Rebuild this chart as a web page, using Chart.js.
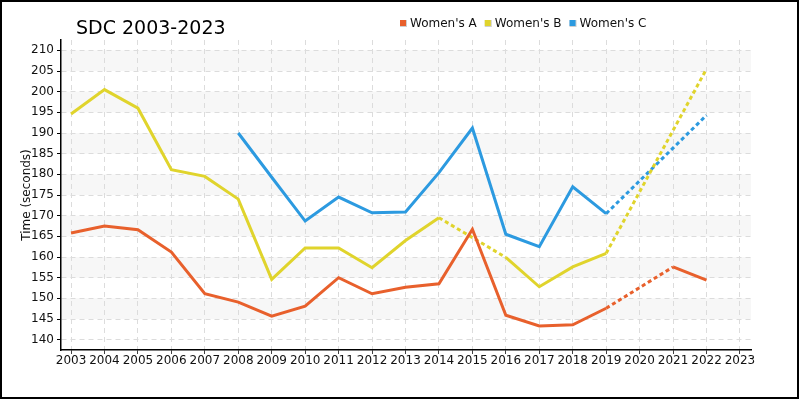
<!DOCTYPE html>
<html>
<head>
<meta charset="utf-8">
<script src="https://cdn.jsdelivr.net/npm/chart.js@4/dist/chart.umd.min.js"></script>
<style>
    html, body { margin: 0; padding: 0; background: #fff; }
    #wrap { width: 800px; height: 400px; position: relative; }
</style>
</head>
<body>
<div id="wrap"><canvas id="sdcChart"></canvas></div>
<script>
// ==================== DATA ====================
const years = [2003, 2004, 2005, 2006, 2007, 2008, 2009, 2010, 2011, 2012, 2013,
               2014, 2015, 2016, 2017, 2018, 2019, 2020, 2021, 2022, 2023];

const womensA = [165.8, 167.5, 166.6, 161.2, 151.1, 149.1, 145.7, 148.1, 155.0, 151.1, 152.7,
                 153.5, 166.7, 145.9, 143.3, 143.6, 147.6, null, 157.6, 154.4, null];
const womensB = [194.6, 200.5, 196.0, 181.1, 179.5, 174.0, 154.6, 162.2, 162.2, 157.4, 164.0,
                 169.5, null, 159.9, 152.8, 157.6, 160.9, null, null, 205.5, null];
const womensC = [null, null, null, null, null, 190.0, 179.3, 168.7, 174.5, 170.7, 170.9,
                 180.4, 191.2, 165.5, 162.5, 177.0, 170.5, null, null, 194.3, null];

const seriesLabels = ["Women's A", "Women's B", "Women's C"];
const seriesColors = ['#e8602c', '#e0d42c', '#2c9ae0'];
const yTicks = [140, 145, 150, 155, 160, 165, 170, 175, 180, 185, 190, 195, 200, 205, 210];
const shadedBands = [[145, 150], [155, 160], [165, 170], [175, 180], [185, 190], [195, 200], [205, 210]];

const FONT = "'DejaVu Sans', Verdana, sans-serif";

function toPoints(values) {
    return years.map((y, i) => ({ x: y, y: values[i] }));
}

// dashed wherever the line spans a missing year
const gapDash = ctx => (ctx.p0.skip || ctx.p1.skip ? [4, 3] : undefined);

function makeDataset(label, values, color) {
    return {
        label,
        data: toPoints(values),
        borderColor: color,
        backgroundColor: color,
        borderWidth: 3,
        pointRadius: 0,
        tension: 0,
        spanGaps: true,
        segment: { borderDash: gapDash }
    };
}

// ==================== PLUGINS ====================
const decorPlugin = {
    id: 'decor',
    beforeDraw(chart) {
        const { ctx, chartArea, scales } = chart;
        ctx.save();
        ctx.fillStyle = '#f7f7f7';
        shadedBands.forEach(([lo, hi]) => {
            const top = scales.y.getPixelForValue(hi);
            const bot = scales.y.getPixelForValue(lo);
            ctx.fillRect(chartArea.left, top, chartArea.right - chartArea.left, bot - top);
        });
        ctx.restore();
    },
    afterDraw(chart) {
        const { ctx } = chart;
        ctx.save();
        // title
        ctx.fillStyle = '#000';
        ctx.font = '19px ' + FONT;
        ctx.textBaseline = 'alphabetic';
        ctx.textAlign = 'left';
        ctx.fillText('SDC 2003-2023', 76, 34);

        // legend
        ctx.font = '12px ' + FONT;
        ctx.textBaseline = 'middle';
        let x = 400;
        chart.data.datasets.forEach(ds => {
            ctx.fillStyle = '#cfcfcf';
            ctx.fillRect(x, 20, 7, 7);
            ctx.fillStyle = ds.borderColor;
            ctx.fillRect(x, 20, 6, 6);
            ctx.fillStyle = '#111';
            ctx.fillText(ds.label, x + 10, 23.5);
            x += 10 + ctx.measureText(ds.label).width + 8;
        });

        // frame
        ctx.strokeStyle = '#000';
        ctx.lineWidth = 2;
        ctx.strokeRect(1, 1, 797, 397);
        ctx.restore();
    }
};

// ==================== CHART ====================
new Chart(document.getElementById('sdcChart'), {
    type: 'line',
    data: {
        datasets: [
            makeDataset(seriesLabels[0], womensA, seriesColors[0]),
            makeDataset(seriesLabels[1], womensB, seriesColors[1]),
            makeDataset(seriesLabels[2], womensC, seriesColors[2])
        ]
    },
    options: {
        responsive: true,
        maintainAspectRatio: false,
        animation: false,
        layout: { padding: { top: 40, left: 16, right: 49, bottom: 0 } },
        plugins: {
            legend: { display: false },
            title: { display: false },
            tooltip: { enabled: false }
        },
        scales: {
            x: {
                type: 'linear',
                min: 2002.7,
                max: 2023.33,
                afterFit: s => { s.height = 50; },
                afterBuildTicks: s => { s.ticks = years.map(v => ({ value: v })); },
                ticks: {
                    color: '#111',
                    font: { family: FONT, size: 12 },
                    padding: 0,
                    maxRotation: 0,
                    autoSkip: false,
                    callback: v => String(v)
                },
                grid: {
                    color: '#dcdcdc',
                    tickColor: '#000',
                    tickLength: 4,
                    tickBorderDash: [1, 0]
                },
                border: { color: '#000', width: 1.5, dash: [5, 4] }
            },
            y: {
                min: 137.5,
                max: 212.5,
                afterFit: s => { s.width = 45; },
                afterBuildTicks: s => { s.ticks = yTicks.map(v => ({ value: v })); },
                ticks: {
                    color: '#111',
                    font: { family: FONT, size: 12 },
                    padding: 3
                },
                grid: {
                    color: '#dcdcdc',
                    tickColor: '#000',
                    tickLength: 4,
                    tickBorderDash: [1, 0]
                },
                border: { color: '#000', width: 1.5, dash: [5, 4] },
                title: {
                    display: true,
                    text: 'Time (seconds)',
                    color: '#111',
                    font: { family: FONT, size: 12 },
                    padding: { top: 4, bottom: 0 }
                }
            }
        }
    },
    plugins: [decorPlugin]
});
</script>
</body>
</html>
